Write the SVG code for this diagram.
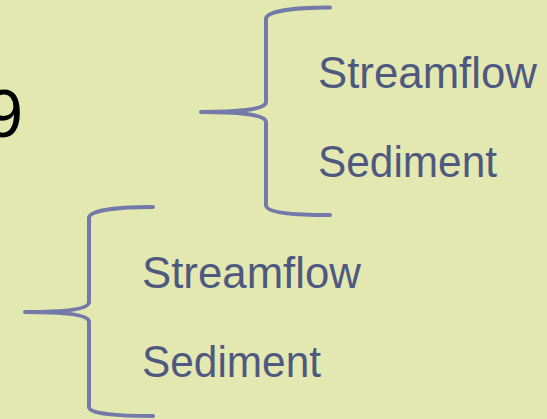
<svg xmlns="http://www.w3.org/2000/svg" width="547" height="419" viewBox="0 0 547 419">
<style>
.bg{fill:#e3e8b1}
.brace{fill:none;stroke:#717aa9;stroke-width:4;stroke-linecap:round;stroke-linejoin:round}
.lbl{font-family:"Liberation Sans",Arial,sans-serif;font-size:45px;fill:#4f5980}
.num{font-family:"Liberation Sans",Arial,sans-serif;font-size:68px;fill:#000}
</style>
<rect class="bg" x="0" y="0" width="547" height="419"/>
<text class="num" x="23" y="137" text-anchor="end">9</text>
<g id="connectors">
<path class="brace" d="M201,112 C235,112 266,110 266,102 L266,19 C266,11 295,7.5 330,7.5 M201,112 C235,112 266,114 266,122 L266,205 C266,213 295,215 330,215"/>
<path class="brace" d="M25,312 C59,312 89,310 89,302 L89,218 C89,210 118,207 153,207 M25,312 C59,312 89,314 89,322 L89,407 C89,414 118,416 153,416"/>
</g>
<g id="top-streamflow"><text class="lbl" x="318" y="88" textLength="219" lengthAdjust="spacingAndGlyphs">Streamflow</text></g>
<g id="top-sediment"><text class="lbl" x="318" y="177" textLength="179" lengthAdjust="spacingAndGlyphs">Sediment</text></g>
<g id="bottom-streamflow"><text class="lbl" x="142" y="288" textLength="219" lengthAdjust="spacingAndGlyphs">Streamflow</text></g>
<g id="bottom-sediment"><text class="lbl" x="142" y="377" textLength="179" lengthAdjust="spacingAndGlyphs">Sediment</text></g>
</svg>
